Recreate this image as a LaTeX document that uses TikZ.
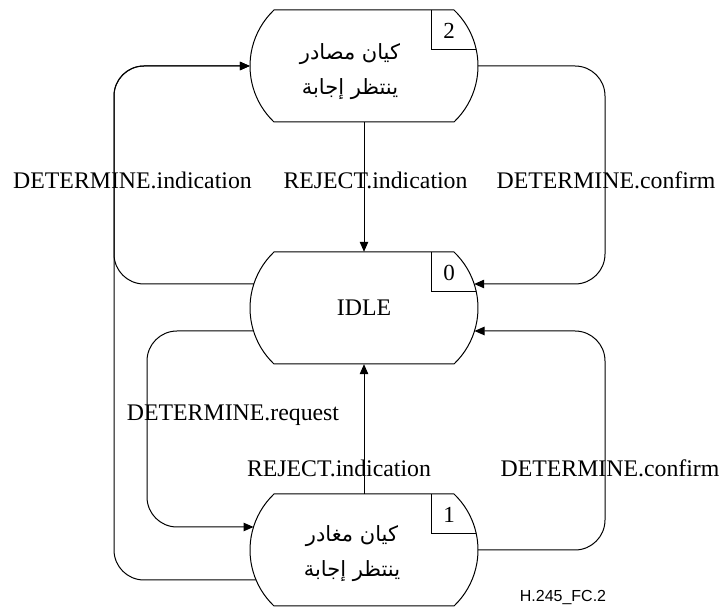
\documentclass[tikz,border=0pt]{standalone}
\usepackage{fontspec}
\setmainfont{Liberation Serif}
\setsansfont{Liberation Sans}
\newfontfamily\arabicfont[Script=Arabic]{DejaVu Sans}
\TeXXeTstate=1
\usetikzlibrary{arrows.meta,calc}

% SDL state symbol outline with its number box, drawn around a named node
\newcommand\sdlstateoutline[1]{%
  \draw[outline,shift={(#1.center)}]
    (-90,56) -- (90,56) arc[start angle=46.4,end angle=-46.4,radius=77.33pt]
    -- (-90,-56) arc[start angle=226.4,end angle=133.6,radius=77.33pt] -- cycle;
  \draw[outline,shift={(#1.center)}] (67,56) -- (67,16) -- (112.3,16);}

\tikzset{
  stateholder/.style={rectangle,minimum width=228pt,minimum height=112pt,inner sep=0pt},
  outline/.style={line width=1pt,black},
  conn/.style={line width=1pt,black,rounded corners=30pt},
  arr/.style={-{Triangle[length=10pt,width=8.5pt]}},
  lbl/.style={font=\fontsize{23.8}{28}\selectfont,inner sep=0pt},
  num/.style={font=\fontsize{23}{27}\selectfont,inner sep=0pt},
  ar/.style={font=\fontsize{21}{35}\selectfont\arabicfont,inner sep=0pt,align=center},
  figid/.style={font=\sffamily\fontsize{16}{19}\selectfont,inner sep=0pt}
}

\begin{document}
\begin{tikzpicture}[x=1pt,y=1pt]
\useasboundingbox (0,0) rectangle (720,612);

% states
\node[stateholder] (s2) at (364,546) {};
\node[stateholder] (s0) at (364,304) {};
\node[stateholder] (s1) at (364,62) {};
\sdlstateoutline{s2}
\sdlstateoutline{s0}
\sdlstateoutline{s1}

% state texts and numbers
\node[ar] (t2) at ($(s2.center)+(-14,-6)$) {\beginR كيان مصادر\endR\\\beginR ينتظر إجابة\endR};
\node[ar] (t1) at ($(s1.center)+(-12,-4)$) {\beginR كيان مغادر\endR\\\beginR ينتظر إجابة\endR};
\node[lbl] (t0) at (s0.center) {IDLE};
\node[num] (n2) at ($(s2.center)+(85,35)$) {2};
\node[num] (n0) at ($(s0.center)+(85,35)$) {0};
\node[num] (n1) at ($(s1.center)+(85,35)$) {1};

% ports on the curved sides
\coordinate (s0-wu) at ($(s0.center)+(-110.2,24)$);
\coordinate (s0-wd) at ($(s0.center)+(-110.5,-23)$);
\coordinate (s0-eu) at ($(s0.center)+(110.2,24)$);
\coordinate (s0-ed) at ($(s0.center)+(110.5,-23)$);
\coordinate (s1-wu) at ($(s1.center)+(-110.5,23)$);
\coordinate (s1-wd) at ($(s1.center)+(-107.9,-30)$);

% routing columns
\coordinate (lx) at (114,0);
\coordinate (ix) at (147,0);
\coordinate (rx) at (605,0);

% connectors
\draw[conn,arr] (s2.south) -- (s0.north);
\draw[conn,arr] (s1.north) -- (s0.south);
\draw[conn,arr] (s0-wu) -- (s0-wu -| lx) -- (s2.west -| lx) -- (s2.west);
\draw[conn,arr] (s1-wd) -- (s1-wd -| lx) -- (s2.west -| lx) -- (s2.west);
\draw[conn,arr] (s2.east) -- (s2.east -| rx) -- (s0-eu -| rx) -- (s0-eu);
\draw[conn,arr] (s1.east) -- (s1.east -| rx) -- (s0-ed -| rx) -- (s0-ed);
\draw[conn,arr] (s0-wd) -- (s0-wd -| ix) -- (s1-wu -| ix) -- (s1-wu);

% signal labels
\node[lbl] (l1) at (132.5,432) {DETERMINE.indication};
\node[lbl] (l2) at (375.5,432) {REJECT.indication};
\node[lbl] (l3) at (606,432) {DETERMINE.confirm};
\node[lbl] (l4) at (233,197) {DETERMINE.request};
\node[lbl] (l5) at (339,144) {REJECT.indication};
\node[lbl] (l6) at (610,144) {DETERMINE.confirm};

\node[figid] (fid) at (563,14) {H.245\_FC.2};
\end{tikzpicture}
\end{document}
